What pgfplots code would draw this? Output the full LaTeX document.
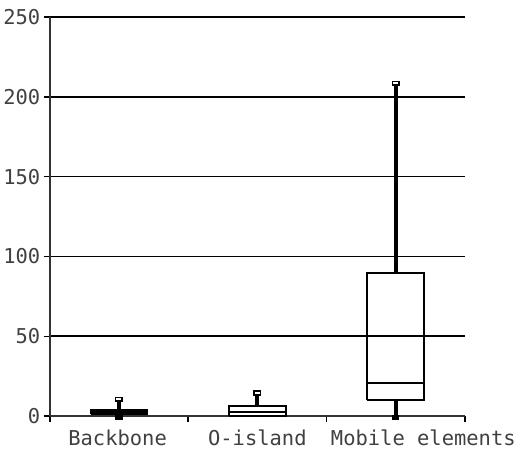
\documentclass[border=0pt]{standalone}
\usepackage{fontspec}
\setmainfont{DejaVu Sans Mono}
\usepackage{pgfplots}
\pgfplotsset{compat=1.18}
\begin{document}
\begin{tikzpicture}
\begin{axis}[
  scale only axis, width=414bp, height=398bp,
  xmin=0, xmax=3, ymin=0, ymax=250,
  axis lines*=left,
  axis line style={-, line width=1.6bp, black!80},
  ytick={0,50,...,250},
  ymajorgrids, grid style={black, line width=1.6bp},
  xtick={0,1,2,3}, xticklabels={},
  extra x ticks={0.49,1.5,2.7},
  extra x tick labels={Backbone,O-island,Mobile elements},
  extra x tick style={major tick length=0pt, grid=none,
    tick label style={yshift=-10bp}},
  tick align=outside, major tick length=6bp,
  tick style={black, line width=1.4bp},
  xtick pos=bottom, ytick pos=left,
  tick label style={font=\fontsize{20.4bp}{24bp}\selectfont, text=black!75},
  /pgf/number format/assume math mode=true,
  clip=false,
  box/.style={line width=2bp, black, mark=none},
  whisk/.style={line width=4bp, black, mark=none},
]
% Backbone
\addplot[whisk] coordinates {(0.5,-0.5) (0.5,10)};
\addplot[box, fill=black] coordinates {(0.295,1) (0.705,1) (0.705,4) (0.295,4) (0.295,1)};
% O-island
\addplot[whisk] coordinates {(1.5,6.2) (1.5,14)};
\addplot[box, fill=white] coordinates {(1.295,0.3) (1.705,0.3) (1.705,6.2) (1.295,6.2) (1.295,0.3)};
\addplot[box] coordinates {(1.295,2.3) (1.705,2.3)};
% Mobile elements
\addplot[whisk] coordinates {(2.5,0) (2.5,10)};
\addplot[whisk] coordinates {(2.5,89.5) (2.5,208)};
\addplot[box] coordinates {(2.295,10) (2.705,10) (2.705,89.5) (2.295,89.5) (2.295,10)};
\addplot[box] coordinates {(2.295,20.5) (2.705,20.5)};
% whisker caps
\addplot[only marks, mark=square, mark size=3.3bp,
  mark options={line width=1.6bp, black, fill=white, yscale=0.6}]
  coordinates {(0.5,10.5) (1.5,14.5) (2.5,208.5)};
\addplot[only marks, mark=square*, mark size=3.3bp,
  mark options={line width=1bp, black, fill=black, yscale=0.6}]
  coordinates {(0.5,-1) (2.5,-1)};
\end{axis}
\path (current bounding box.north) ++(0,6bp);
\path (current bounding box.south) ++(0,-2bp);
\end{tikzpicture}
\end{document}
